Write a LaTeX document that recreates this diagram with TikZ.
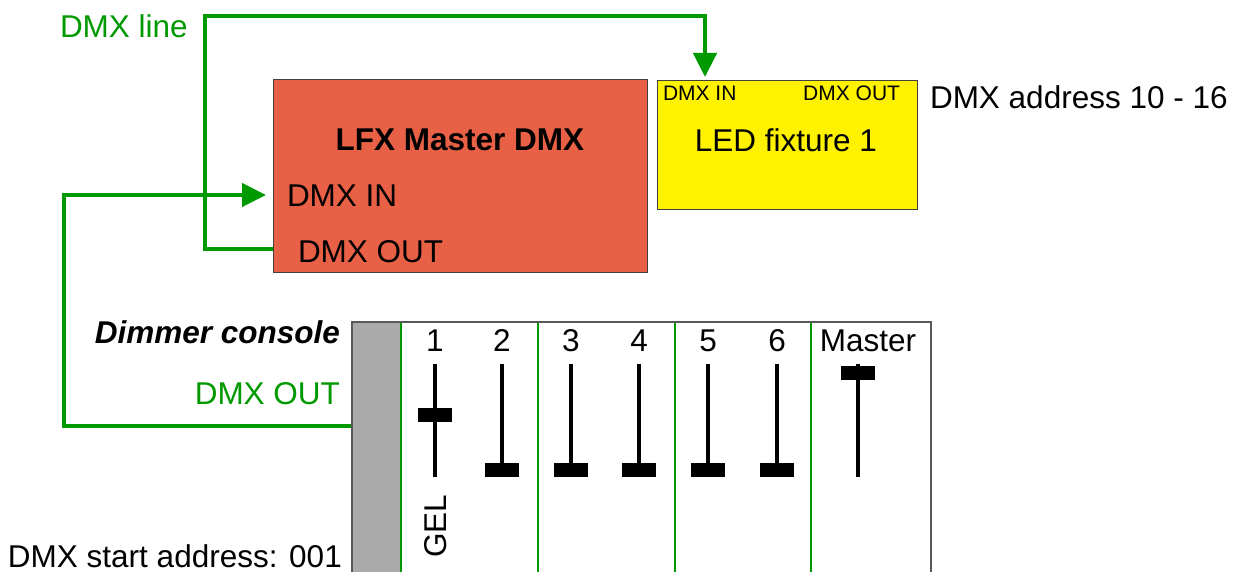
\documentclass[tikz,border=0pt]{standalone}
\usepackage{fontspec}
\setmainfont{Liberation Sans}
\usetikzlibrary{arrows.meta}
\definecolor{dmxgreen}{RGB}{0,153,0}
\definecolor{boxred}{RGB}{232,96,69}
\definecolor{stripgray}{RGB}{170,170,170}
\begin{document}
\begin{tikzpicture}[x=1pt,y=-1pt,
  every node/.style={inner sep=0pt, outer sep=0pt},
  txt/.style={font=\fontsize{31.5}{36}\selectfont},
  small/.style={font=\fontsize{21}{24}\selectfont},
  redbox/.style={draw=black!75, line width=1pt, fill=boxred},
  ybox/.style={draw=black!75, line width=1pt, fill=yellow},
  consolebox/.style={draw=black!65, line width=1.2pt},
  dmxline/.style={draw=dmxgreen, line width=4.5pt, line join=miter},
  tip/.style={-{Triangle[length=24pt,width=23pt]}},
  divider/.style={draw=dmxgreen, line width=2pt},
  faderline/.style={draw=black, line width=3.5pt},
  knob/.style={fill=black}]
\useasboundingbox (0,0) rectangle (1238,572);
\clip (0,0) rectangle (1238,572);

% LFX Master box
\node[redbox, minimum width=374pt, minimum height=192pt] (master) at (460,176) {};
\node[txt, font=\fontsize{31.5}{36}\selectfont\bfseries, anchor=base] (mtitle) at (460,151) {LFX Master DMX};
\node[txt, anchor=base west] (min) at (287,206) {DMX IN};
\node[txt, anchor=base west] (mout) at (298,262) {DMX OUT};

% LED fixture
\node[ybox, minimum width=260pt, minimum height=128pt] (fix) at (787,145) {};
\node[small, anchor=base west] (fin) at (663,101) {DMX IN};
\node[small, anchor=base east] (fout) at (900,101) {DMX OUT};
\node[txt, anchor=base] (fname) at (786,152) {LED fixture 1};
\node[txt, anchor=base west] (faddr) at (930,109) {DMX address 10 - 16};

% labels
\node[txt, text=dmxgreen, anchor=base west] (linelbl) at (60,38) {DMX line};
\node[txt, font=\fontsize{31.5}{36}\selectfont\bfseries\itshape, anchor=base east] (dimlbl) at (340,343) {Dimmer console};
\node[txt, text=dmxgreen, anchor=base east] (doutlbl) at (340,404) {DMX OUT};
\node[txt, anchor=base west] (startlbl) at (8,567) {DMX start address: 001};

% pins
\coordinate (moutpin) at (273,249);
\coordinate (minpin) at (273,195);
\coordinate (finpin) at (705,81);
\coordinate (coutpin) at (352,426);

% DMX connectors
\draw[dmxline, tip, shorten >=4pt] (moutpin) -- (205,249) -- (205,16) -- (705,16) -- (finpin);
\draw[dmxline, tip, shorten >=7pt] (coutpin) -- (64,426) -- (64,195) -- (minpin);

% Dimmer console
\fill[stripgray] (352,322) rectangle (400,590);
\node[consolebox, minimum width=579pt, minimum height=268pt] (console) at (641.5,456) {};
\foreach \x in {401,538,675,811} \draw[divider] (\x,323) -- (\x,572);

\foreach \x/\l in {435/1,502/2,571/3,639/4,708/5,777/6}
  \node[txt, anchor=base] (num\l) at (\x,351) {\l};
\node[txt, anchor=base] (numM) at (868,351) {Master};

\foreach \x in {435,502,571,639,708,777,858}
  \draw[faderline] (\x,364) -- (\x,477);
\fill[knob] (418,408) rectangle (452,422);
\foreach \x in {502,571,639,708,777}
  \fill[knob] (\x-17,463) rectangle (\x+17,477);
\fill[knob] (841,366) rectangle (875,380);

\node[txt, rotate=90, anchor=base] (gel) at (446,526) {GEL};
\end{tikzpicture}
\end{document}
